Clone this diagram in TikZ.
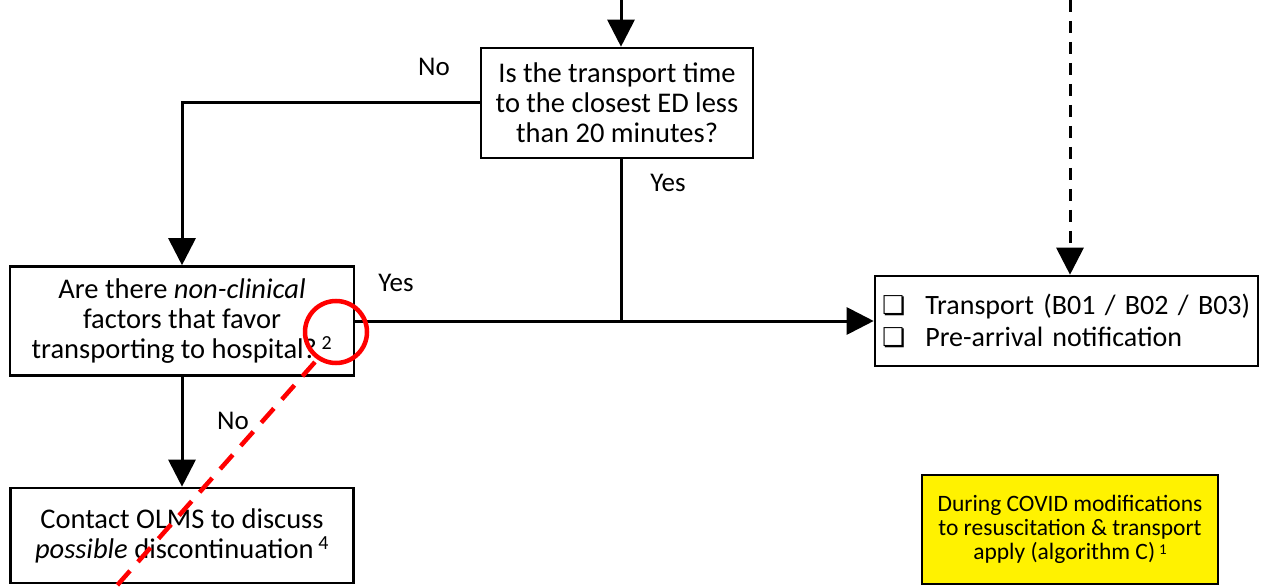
\documentclass[tikz,border=0pt]{standalone}
\usepackage{fontspec}
\setmainfont{Carlito}
\newfontfamily\dejavu{DejaVu Sans}
\usetikzlibrary{arrows.meta}
\begin{document}
\begin{tikzpicture}[x=1pt,y=-1pt,
  box/.style={draw,line width=2.6pt,align=center,inner sep=0pt,font=\fontsize{28.5}{30}\selectfont},
  line/.style={line width=3pt},
  conn/.style={line width=3pt,-{Triangle[length=27pt,width=27pt]}},
  lbl/.style={font=\fontsize{27}{30}\selectfont,inner sep=0pt},
  redmark/.style={draw=red,line width=4.5pt}]
\useasboundingbox (0,0) rectangle (1269,588);
\node[box,minimum width=272pt,minimum height=110pt] (q1) at (617,103)
  {Is the transport time\\to the closest ED less\\than 20 minutes?};
\node[box,minimum width=344pt,minimum height=109pt] (q2) at (182,321)
  {Are there \textit{non-clinical}\\factors that favor\\transporting to hospital?\,\textsuperscript{2}};
\node[box,minimum width=343pt,minimum height=95pt] (b3) at (182,535.5)
  {Contact OLMS to discuss\\\textit{possible} discontinuation\,\textsuperscript{4}};
\node[box,minimum width=383pt,minimum height=90pt,align=left,text width=369pt,font=\fontsize{28}{32}\selectfont] (tr) at (1066.5,321)
  {{\dejavu\fontsize{26}{32}\selectfont ❏}\hspace{20pt}Transport (B01 / B02 / B03)\\{\dejavu\fontsize{26}{32}\selectfont ❏}\hspace{20pt}Pre-arrival notification};
\node[box,fill=yellow,minimum width=296pt,minimum height=109pt,font=\fontsize{23.5}{24}\selectfont] (cv) at (1070,529.5)
  {During COVID modifications\\to resuscitation \& transport\\apply (algorithm C)\,\raisebox{5pt}{\fontsize{15}{15}\selectfont 1}};
\coordinate (t1) at (621,0);
\coordinate (t2) at (1070,0);
\coordinate (j) at (621,321);
\draw[conn] (t1) -- (t1 |- q1.north);
\draw[conn] (q1.west) -| (q2.north);
\draw[line] (q1.south -| j) -- (j);
\draw[conn] (q2.east) -- (tr.west);
\draw[conn] (q2.south) -- (b3.north);
\draw[conn,dash pattern=on 12pt off 9pt] (t2) -- (t2 |- tr.north);
\node[lbl] (nol1) at (434,67) {No};
\node[lbl] (yes1) at (668,183) {Yes};
\node[lbl] (yes2) at (396,283) {Yes};
\node[lbl] (nol2) at (233,421) {No};
\draw[redmark] (336,332) circle [radius=31pt];
\coordinate (r1) at (315,362);
\coordinate (r2) at (113,590);
\draw[redmark,dash pattern=on 19pt off 12pt] (r1) -- (r2);
\end{tikzpicture}
\end{document}
